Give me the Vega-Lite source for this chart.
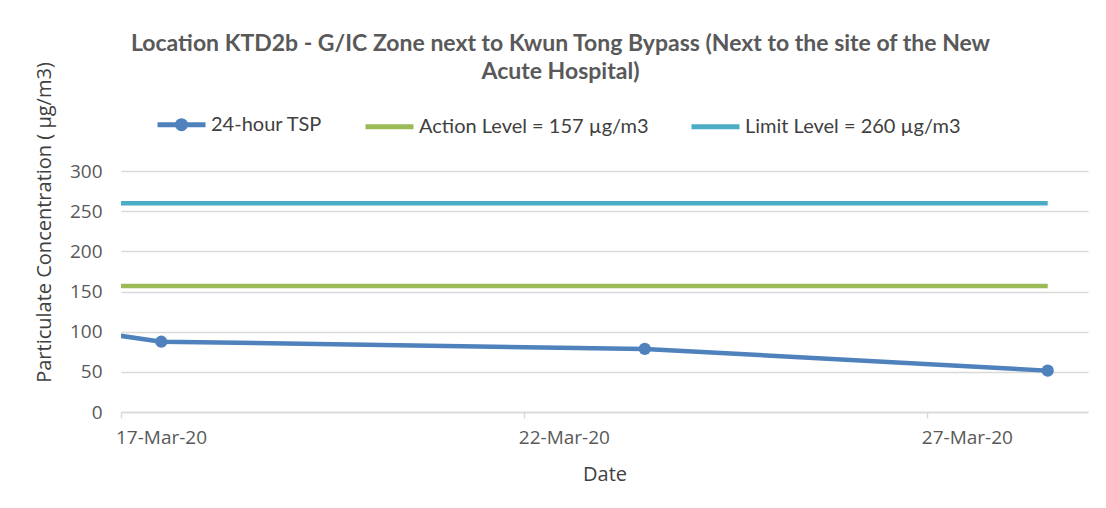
{
  "$schema": "https://vega.github.io/schema/vega-lite/v6.json",
  "width": 967,
  "height": 241,
  "autosize": {"type": "none"},
  "padding": {"left": 121, "top": 171, "right": 18, "bottom": 96},
  "background": "white",
  "title": {
    "text": ["Location KTD2b - G/IC Zone next to Kwun Tong Bypass (Next to the site of the New", "Acute Hospital)"],
    "anchor": "middle",
    "frame": "group",
    "dx": -44,
    "offset": 0,
    "dy": 22,
    "font": "Lato",
    "fontSize": 23,
    "fontWeight": "bold",
    "color": "#595959",
    "lineHeight": 28
  },
  "config": {
    "view": {"stroke": null},
    "font": "Open Sans"
  },
  "data": {
    "values": [
      {"date": "2020-03-16T12:00:00", "series": "24-hour TSP", "value": 102},
      {"date": "2020-03-17T12:00:00", "series": "24-hour TSP", "value": 87.5},
      {"date": "2020-03-23T12:00:00", "series": "24-hour TSP", "value": 78.5},
      {"date": "2020-03-28T12:00:00", "series": "24-hour TSP", "value": 51.5},
      {"date": "2020-03-16T12:00:00", "series": "Action Level = 157 µg/m3", "value": 157},
      {"date": "2020-03-17T12:00:00", "series": "Action Level = 157 µg/m3", "value": 157},
      {"date": "2020-03-23T12:00:00", "series": "Action Level = 157 µg/m3", "value": 157},
      {"date": "2020-03-28T12:00:00", "series": "Action Level = 157 µg/m3", "value": 157},
      {"date": "2020-03-16T12:00:00", "series": "Limit Level = 260 µg/m3", "value": 260},
      {"date": "2020-03-17T12:00:00", "series": "Limit Level = 260 µg/m3", "value": 260},
      {"date": "2020-03-23T12:00:00", "series": "Limit Level = 260 µg/m3", "value": 260},
      {"date": "2020-03-28T12:00:00", "series": "Limit Level = 260 µg/m3", "value": 260}
    ]
  },
  "encoding": {
    "x": {
      "field": "date",
      "type": "temporal",
      "title": "Date",
      "scale": {
        "domain": [
          {"year": 2020, "month": 3, "date": 17},
          {"year": 2020, "month": 3, "date": 29}
        ]
      },
      "axis": {
        "values": [
          {"year": 2020, "month": 3, "date": 17},
          {"year": 2020, "month": 3, "date": 22},
          {"year": 2020, "month": 3, "date": 27}
        ],
        "format": "%d-%b-%y",
        "grid": false,
        "domainColor": "#d9d9d9",
        "domainWidth": 1.5,
        "tickColor": "#d9d9d9",
        "tickWidth": 1.5,
        "tickSize": 6,
        "labelOffset": 40,
        "labelFlush": false,
        "labelPadding": 10,
        "labelFontSize": 19,
        "labelColor": "#595959",
        "labelFont": "Open Sans",
        "titleFont": "Open Sans",
        "titleFontSize": 20,
        "titleFontWeight": "normal",
        "titleColor": "#404040",
        "titlePadding": 17
      }
    },
    "y": {
      "field": "value",
      "type": "quantitative",
      "title": "Particulate Concentration ( µg/m3)",
      "scale": {"domain": [0, 300], "nice": false},
      "axis": {
        "values": [0, 50, 100, 150, 200, 250, 300],
        "domain": false,
        "ticks": false,
        "gridColor": "#d9d9d9",
        "gridWidth": 1.5,
        "labelPadding": 19,
        "labelFontSize": 19,
        "labelColor": "#595959",
        "labelFont": "Open Sans",
        "titleFont": "Open Sans",
        "titleFontSize": 20,
        "titleFontWeight": "normal",
        "titleColor": "#404040",
        "titleX": -77,
        "titleY": 51,
        "titleAlign": "center",
        "titleBaseline": "middle",
        "titleAngle": -90
      }
    },
    "color": {
      "field": "series",
      "type": "nominal",
      "scale": {
        "domain": ["24-hour TSP", "Action Level = 157 µg/m3", "Limit Level = 260 µg/m3"],
        "range": ["#4f81bd", "#9bbb59", "#4bacc6"]
      },
      "legend": {
        "title": null,
        "orient": "none",
        "direction": "horizontal",
        "legendX": 34,
        "legendY": -73,
        "padding": 0,
        "symbolType": "stroke",
        "symbolSize": 2304,
        "symbolStrokeWidth": 5,
        "symbolOffset": 0,
        "labelOffset": 3,
        "columnPadding": 32,
        "labelFont": "Lato",
        "labelFontSize": 20,
        "labelColor": "#404040",
        "labelLimit": 400,
        "encode": {
          "symbols": {
            "update": {
              "shape": {"signal": "datum.value === '24-hour TSP' ? 'M-1,0H1M-0.17,0A0.17,0.17 0 1 0 0.17,0A0.17,0.17 0 1 0 -0.17,0Z' : 'stroke'"},
              "fill": {"signal": "datum.value === '24-hour TSP' ? '#4f81bd' : 'transparent'"},
              "fillOpacity": {"value": 1}
            }
          }
        }
      }
    }
  },
  "layer": [
    {
      "mark": {"type": "line", "strokeWidth": 4.5, "clip": true}
    },
    {
      "transform": [{"filter": "datum.series === '24-hour TSP'"}],
      "mark": {"type": "point", "filled": true, "size": 150, "opacity": 1, "clip": true},
      "encoding": {
        "shape": {"value": "circle"}
      }
    }
  ]
}
